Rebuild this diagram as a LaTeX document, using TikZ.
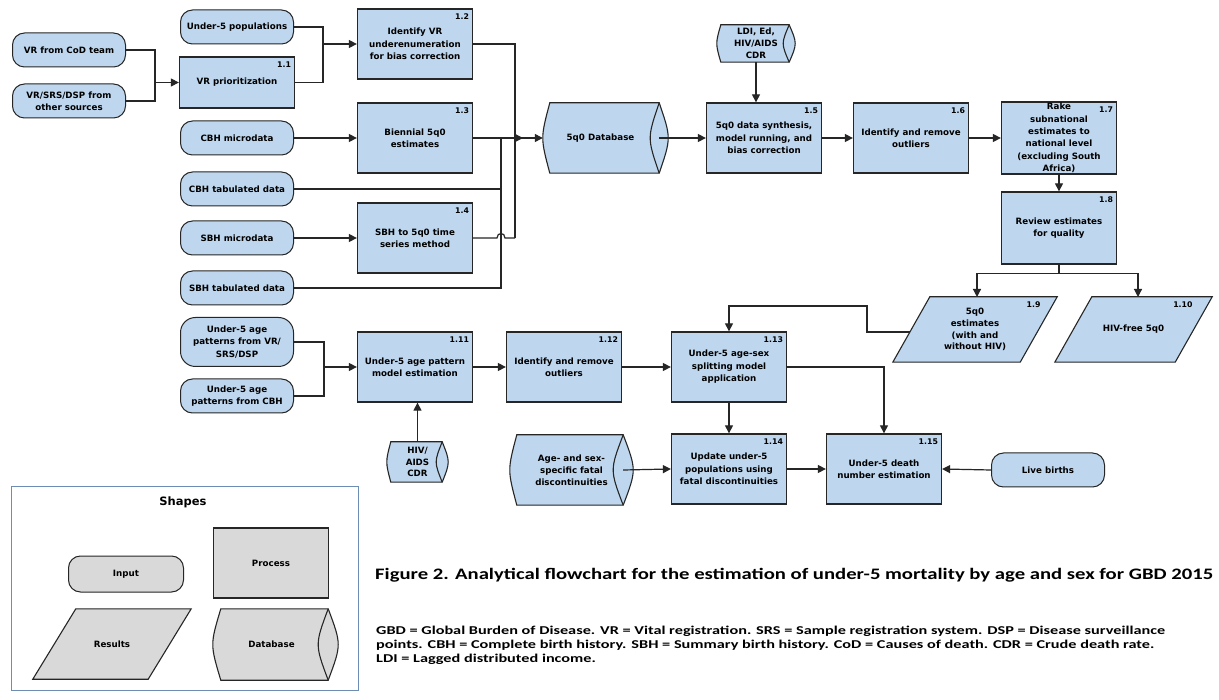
\documentclass[tikz,border=0pt]{standalone}
\usepackage{graphicx}
\usepackage{fontspec}
\setmainfont{DejaVu Sans}
\newfontfamily\capfont{Carlito}
\usetikzlibrary{arrows.meta,calc,backgrounds}

\definecolor{boxfill}{RGB}{190,215,238}
\definecolor{greyfill}{RGB}{217,217,217}
\definecolor{lineclr}{RGB}{38,38,38}
\definecolor{legendframe}{RGB}{110,141,179}

\newcommand\nodefont{\bfseries\fontsize{8.7}{12.4}\selectfont}
\newcommand\smallnodefont{\bfseries\fontsize{8.7}{11.8}\selectfont}
\newcommand\numfont{\bfseries\fontsize{7.8}{9}\selectfont}

% horizontal "database" cylinder: node name, left bulge, lens half-width, fill
\newcommand\dbshape[4]{%
  \path[draw=lineclr, line width=1.1pt, fill=#4]
    let \p1=(#1.north west), \p2=(#1.south east), \p3=(#1.west) in
    (\x1+#2,\y1) -- (\x2-#3,\y1) .. controls (\x2+#3/3,\y3) .. (\x2-#3,\y2)
    -- (\x1+#2,\y2) .. controls (\x1-#2/3,\y3) .. (\x1+#2,\y1) -- cycle;
  \path[draw=lineclr, line width=1.1pt]
    let \p1=(#1.north west), \p2=(#1.south east), \p3=(#1.west) in
    (\x2-#3,\y1) .. controls (\x2-7*#3/3,\y3) .. (\x2-#3,\y2);
}
% slanted "results" box: node name, slant, fill
\newcommand\slantshape[3]{%
  \path[draw=lineclr, line width=1.1pt, fill=#3]
    let \p1=(#1.north west), \p2=(#1.south east) in
    (\x1+#2/2,\y1) -- (\x2+#2/2,\y1) -- (\x2-#2/2,\y2) -- (\x1-#2/2,\y2) -- cycle;
}
% step number in the top right corner of a box
\newcommand\stepno[3][-4]{\node[numlbl] (#2n) at ($(#2.north east)+(#1,5)$) {#3};}

\begin{document}
\begin{tikzpicture}[x=1pt,y=-1pt,
  base/.style={font=\nodefont, align=center, inner sep=1pt, text=black},
  inbox/.style={base, draw=lineclr, line width=1pt, fill=boxfill, rounded corners=12pt,
                minimum width=113pt, minimum height=34pt},
  procbox/.style={base, draw=lineclr, line width=1.3pt, fill=boxfill,
                  minimum width=115pt, minimum height=70pt},
  shapetext/.style={base, font=\smallnodefont, inner sep=0pt},
  numlbl/.style={font=\numfont, inner sep=0pt, anchor=north east},
  conn/.style={draw=lineclr, line width=1.2pt},
  arr/.style={conn, -{Triangle[length=8pt,width=8pt]}},
]
\useasboundingbox (0,0) rectangle (1219,700);

% ---------- data inputs ----------
\node[inbox] (cod)    at (69,50)   {VR from CoD team};
\node[inbox] (vrsrs)  at (69,101)  {VR/SRS/DSP from\\other sources};
\node[inbox] (u5pop)  at (237,27)  {Under-5 populations};
\node[inbox] (cbhmic) at (237,138) {CBH microdata};
\node[inbox] (cbhtab) at (237,189) {CBH tabulated data};
\node[inbox] (sbhmic) at (237,238) {SBH microdata};
\node[inbox] (sbhtab) at (237,288) {SBH tabulated data};
\node[inbox, minimum height=49pt, rounded corners=15pt] (agevr) at (237,342)
  {Under-5 age\\patterns from VR/\\SRS/DSP};
\node[inbox] (agecbh) at (237,396) {Under-5 age\\patterns from CBH};
\node[inbox] (births) at (1048,470) {Live births};

% ---------- processes ----------
\node[procbox, minimum height=51pt] (p11) at (237,82.5) {VR prioritization};
\node[procbox] (p12) at (415,44)  {Identify VR\\underenumeration\\for bias correction};
\node[procbox] (p13) at (415,138) {Biennial 5q0\\estimates};
\node[procbox] (p14) at (415,238) {SBH to 5q0 time\\series method};
\node[procbox] (p15) at (764,138) {5q0 data synthesis,\\model running, and\\bias correction};
\node[procbox] (p16) at (911,138) {Identify and remove\\outliers};
\node[procbox] (p17) at (1059,138)
  {Rake\\subnational\\estimates to\\national level\\(excluding South\\Africa)};
\node[procbox, minimum height=72pt] (p18) at (1059,228) {Review estimates\\for quality};
\node[procbox] (p111) at (415,367) {Under-5 age pattern\\model estimation};
\node[procbox] (p112) at (564,367) {Identify and remove\\outliers};
\node[procbox] (p113) at (729,367) {Under-5 age-sex\\splitting model\\application};
\node[procbox] (p114) at (729,469) {Update under-5\\populations using\\fatal discontinuities};
\node[procbox] (p115) at (884,469) {Under-5 death\\number estimation};

\stepno{p11}{1.1}
\stepno{p12}{1.2}
\stepno{p13}{1.3}
\stepno{p14}{1.4}
\stepno{p15}{1.5}
\stepno{p16}{1.6}
\stepno{p17}{1.7}
\stepno{p18}{1.8}
\stepno{p111}{1.11}
\stepno{p112}{1.12}
\stepno{p113}{1.13}
\stepno{p114}{1.14}
\stepno{p115}{1.15}

% ---------- databases ----------
\node[shapetext, minimum width=125pt, minimum height=70pt] (db)     at (605.5,138) {\kern-10pt 5q0 Database};
\node[shapetext, minimum width=78pt,  minimum height=37pt] (ldi)    at (756,43.5)  {LDI, Ed,\\HIV/AIDS\\CDR};
\node[shapetext, minimum width=61pt,  minimum height=40pt] (hiv)    at (417.5,462) {HIV/\\AIDS\\CDR};
\node[shapetext, minimum width=123pt, minimum height=70pt] (agesex) at (571.5,470)
  {Age- and sex-\\specific fatal\\discontinuities};

% ---------- results ----------
\node[shapetext, minimum width=127pt, minimum height=65pt] (r19)  at (975,329.5)
  {5q0\\estimates\\(with and\\without HIV)};
\node[shapetext, minimum width=120pt, minimum height=65pt] (r110) at (1133.5,329.5) {HIV-free 5q0};
\stepno[2]{r19}{1.9}
\stepno[-1]{r110}{1.10}

% ---------- connectors: upper flow ----------
\coordinate (j1) at (155,82.5);
\draw[conn] (cod.east) -| (j1);
\draw[conn] (vrsrs.east) -| (j1);
\draw[arr] (j1) -- (p11.west);
\coordinate (j2) at (323,44);
\draw[conn] (u5pop.east) -| (j2);
\draw[conn] (p11.east) -| (j2);
\draw[arr] (j2) -- (p12.west);
\draw[arr] (cbhmic.east) -- (p13.west);
\draw[arr] (sbhmic.east) -- (p14.west);

\coordinate (tl)   at (501,138);
\coordinate (tr)   at (515,138);
\coordinate (tr2)  at (515,238);
\coordinate (hopa) at (497,238);
\coordinate (hopb) at (505,238);
\coordinate (tip1) at (523,138);
\draw[arr] (p13.east) -- (tip1);
\draw[conn] (cbhtab.east) -| (tl);
\draw[conn] (sbhtab.east) -| (tl);
\draw[conn] (p12.east) -| (tr2);
\draw[conn] (p14.east) -- (hopa) .. controls ($(hopa)+(0,-6)$) and ($(hopb)+(0,-6)$) .. (hopb) -- (tr2);
\draw[arr] (tr) -- (db.west);

\coordinate (dbout) at ($(db.east)+(-9,0)$);
\draw[arr] (dbout) -- (p15.west);
\draw[arr] (ldi.south) -- (ldi.south |- p15.north);
\draw[arr] (p15.east) -- (p16.west);
\draw[arr] (p16.east) -- (p17.west);
\draw[arr] (p17.south) -- (p18.north);
\coordinate (split) at ($(p18.south)+(0,9)$);
\coordinate (in19)  at (977,297);
\coordinate (in110) at (1138,297);
\draw[conn] (p18.south) -- (split);
\draw[arr] (split) -| (in19);
\draw[arr] (split) -| (in110);

\coordinate (fb0) at (910,332);
\coordinate (fb1) at (867,332);
\coordinate (fb2) at (867,306);
\draw[arr] (fb0) -- (fb1) -- (fb2) -| (p113.north);

% ---------- connectors: lower flow ----------
\coordinate (j3) at (324,367);
\draw[conn] (agevr.east) -| (j3);
\draw[conn] (agecbh.east) -| (j3);
\draw[arr] (j3) -- (p111.west);
\draw[arr] (hiv.north) -- (hiv.north |- p111.south);
\draw[arr] (p111.east) -- (p112.west);
\draw[arr] (p112.east) -- (p113.west);
\draw[arr] (p113.south) -- (p114.north);
\draw[arr] (p113.east) -| (p115.north);
\coordinate (asout) at ($(agesex.east)+(-10,0)$);
\draw[arr] (asout) -- (p114.west);
\draw[arr] (p114.east) -- (p115.west);
\draw[arr] (births.west) -- (p115.east);

% ---------- legend ----------
\node[draw=legendframe, line width=0.9pt, minimum width=347pt, minimum height=204pt,
      anchor=north west, inner sep=0pt] (legend) at (11,486) {};
\node[font=\bfseries\fontsize{11.5}{12}\selectfont] (lgtitle) at (183,502) {Shapes};
\node[inbox, fill=greyfill, minimum width=115pt, minimum height=36pt] (lgin) at (126,574) {Input};
\node[procbox, line width=1.1pt, fill=greyfill] (lgproc) at (271,563) {Process};
\node[shapetext, minimum width=115pt, minimum height=70pt] (lgres) at (112,644) {Results};
\node[shapetext, minimum width=125pt, minimum height=71pt] (lgdb) at (275.5,644.5) {\kern-8pt Database};

% ---------- caption and notes ----------
\node[anchor=west, inner sep=0pt] (caption) at (375,575)
  {\resizebox{838pt}{\height}{\capfont\bfseries\fontsize{16}{18}\selectfont
   Figure 2. Analytical flowchart for the estimation of under-5 mortality by age and sex for GBD 2015}};
\node[anchor=north west, inner sep=0pt] (notes) at (376,624)
  {\resizebox{789pt}{\height}{\capfont\bfseries\fontsize{12}{14}\selectfont
   \begin{tabular}{@{}l@{}}
   GBD = Global Burden of Disease. VR = Vital registration. SRS = Sample registration system. DSP = Disease surveillance\\
   points. CBH = Complete birth history. SBH = Summary birth history. CoD = Causes of death. CDR = Crude death rate.\\
   LDI = Lagged distributed income.
   \end{tabular}}};

% ---------- outlines drawn behind the texts ----------
\begin{pgfonlayer}{background}
  \fill[white] (0,0) rectangle (1219,700);
  \dbshape{db}{7}{9}{boxfill}
  \dbshape{ldi}{4}{6}{boxfill}
  \dbshape{hiv}{4}{6}{boxfill}
  \dbshape{agesex}{7}{10}{boxfill}
  \dbshape{lgdb}{8}{10}{greyfill}
  \slantshape{r19}{37}{boxfill}
  \slantshape{r110}{37}{boxfill}
  \slantshape{lgres}{43}{greyfill}
\end{pgfonlayer}
\end{tikzpicture}
\end{document}
